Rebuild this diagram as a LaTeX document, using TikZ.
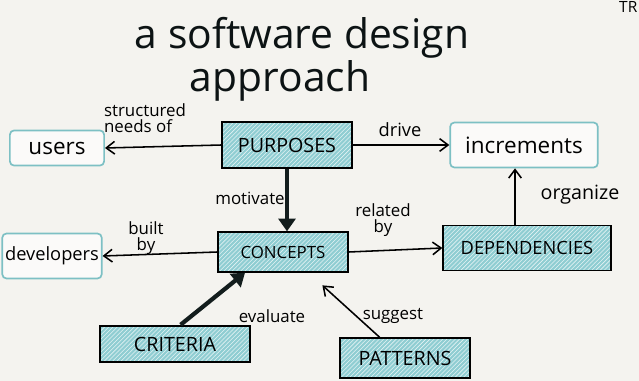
\documentclass[tikz,border=0pt]{standalone}
\usepackage{fontspec}
\setmainfont{Open Sans}
\usetikzlibrary{arrows.meta,patterns}
\definecolor{paper}{HTML}{F4F3EF}
\definecolor{teal1}{HTML}{8FCDD2}
\definecolor{teal2}{HTML}{7DC0C4}

\tikzset{
  plain/.style={draw=teal2, line width=1.2pt, rounded corners=3pt, fill=white!60!paper, inner sep=2pt},
  core/.style={draw=black, line width=1.4pt, preaction={fill=teal1}, pattern=north east lines,
    pattern color=white!75!teal1, inner sep=2pt, font=\fontsize{14}{14}\selectfont},
  lbl/.style={font=\fontsize{12}{11}\selectfont, inner sep=1pt},
  link/.style={line width=1.1pt, -{Straight Barb[length=6pt,width=9pt]}},
  heavy/.style={line width=3pt, draw=black!85!teal2, -{Triangle[length=9pt,width=12pt]}},
  headline/.style={font=\fontsize{29}{29}\selectfont, text=black!90!teal2, inner sep=0pt}
}

\begin{document}
\begin{tikzpicture}[x=0.025cm,y=-0.025cm]
  \fill[paper] (0,0) rectangle (639,381);
  \useasboundingbox (0,0) rectangle (639,381);

  % title
  \node[headline] (title) at (302,38) {a software design};
  \node[headline] (title2) at (280,81) {approach};
  \node[font=\fontsize{11}{11}\selectfont, anchor=north east, inner sep=1pt] (corner) at (639,0) {TR};

  % boxes
  \node[plain, minimum width=67pt, minimum height=25pt, font=\fontsize{16}{16}\selectfont] (users) at (57,148) {users};
  \node[core, minimum width=92pt, minimum height=33pt] (purposes) at (287,145) {PURPOSES};
  \node[plain, minimum width=105pt, minimum height=32pt, font=\fontsize{16}{16}\selectfont] (increments) at (524,145) {increments};
  \node[plain, minimum width=67pt, minimum height=32pt, font=\fontsize{13}{13}\selectfont] (developers) at (52,256) {developers};
  \node[core, minimum width=92pt, minimum height=28pt, font=\fontsize{12}{12}\selectfont] (concepts) at (283,252) {CONCEPTS};
  \node[core, minimum width=119pt, minimum height=32pt, font=\fontsize{13}{13}\selectfont] (dependencies) at (527,248) {DEPENDENCIES};
  \node[core, minimum width=107pt, minimum height=26pt] (criteria) at (175,344) {CRITERIA};
  \node[core, minimum width=92pt, minimum height=28pt] (patterns) at (405,358) {PATTERNS};

  % connectors
  \draw[link] (purposes.west) -- (users.east);
  \draw[link] (purposes.east) -- (increments.west);
  \draw[heavy] (purposes.south) -- (purposes.south |- concepts.north);
  \draw[link] (concepts.west) -- (developers.east);
  \draw[link] (concepts.east) -- (dependencies.west);
  \draw[link] ([xshift=-8.5pt]dependencies.north) -- ([xshift=-8.5pt]dependencies.north |- increments.south);
  \draw[heavy] ([xshift=4pt]criteria.north) -- ([xshift=-27pt]concepts.south);
  \draw[link] ([xshift=-18pt]patterns.north) -- ([xshift=28pt,yshift=-9pt]concepts.south);

  % labels
  \node[lbl, align=left] at (145,118) {structured\\needs of};
  \node[lbl, font=\fontsize{13}{13}\selectfont] at (400,130) {drive};
  \node[lbl] at (250,198) {motivate};
  \node[lbl, align=center] at (146,238) {built\\by};
  \node[lbl, align=center] at (383,220) {related\\by};
  \node[lbl, font=\fontsize{14}{14}\selectfont] at (580,195) {organize};
  \node[lbl] at (272,316) {evaluate};
  \node[lbl] at (393,316) {suggest};
\end{tikzpicture}
\end{document}
